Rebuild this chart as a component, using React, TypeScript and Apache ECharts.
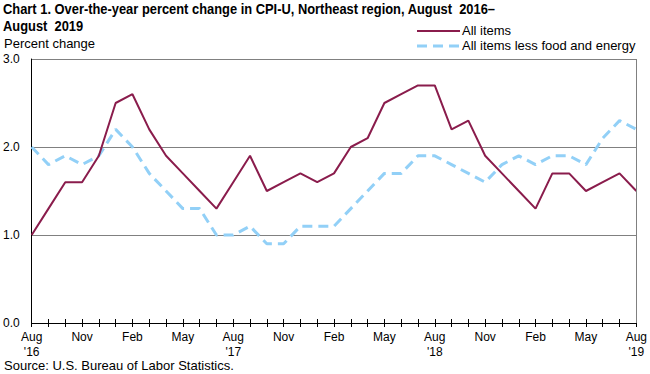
import React, { useEffect, useRef } from "react";
import * as echarts from "echarts";

const months = [
  "Aug\n'16", "Sep", "Oct", "Nov", "Dec", "Jan", "Feb", "Mar", "Apr", "May", "Jun", "Jul",
  "Aug\n'17", "Sep", "Oct", "Nov", "Dec", "Jan", "Feb", "Mar", "Apr", "May", "Jun", "Jul",
  "Aug\n'18", "Sep", "Oct", "Nov", "Dec", "Jan", "Feb", "Mar", "Apr", "May", "Jun", "Jul",
  "Aug\n'19",
];

const allItems = [
  1.0, 1.3, 1.6, 1.6, 1.9, 2.5, 2.6, 2.2, 1.9, 1.7, 1.5, 1.3,
  1.6, 1.9, 1.5, 1.6, 1.7, 1.6, 1.7, 2.0, 2.1, 2.5, 2.6, 2.7,
  2.7, 2.2, 2.3, 1.9, 1.7, 1.5, 1.3, 1.7, 1.7, 1.5, 1.6, 1.7,
  1.5,
];

const core = [
  2.0, 1.8, 1.9, 1.8, 1.9, 2.2, 2.0, 1.7, 1.5, 1.3, 1.3, 1.0,
  1.0, 1.1, 0.9, 0.9, 1.1, 1.1, 1.1, 1.3, 1.5, 1.7, 1.7, 1.9,
  1.9, 1.8, 1.7, 1.6, 1.8, 1.9, 1.8, 1.9, 1.9, 1.8, 2.1, 2.3,
  2.2,
];

const seriesNames = ["All items", "All items less food and energy"];
const yTicks = [0, 1, 2, 3];

const FONT = "'Liberation Sans', Arial, sans-serif";
const RED = "#8a1c4c";
const BLUE = "#92d0f7";

export default function App() {
  const ref = useRef<HTMLDivElement>(null);
  useEffect(() => {
    if (!ref.current) return;
    const chart = echarts.init(ref.current, null, { renderer: "svg" });
    const labelFn = (v: string, i: number) => (i % 3 === 0 ? v : "");
    chart.setOption({
      animation: false,
      backgroundColor: "#ffffff",
      textStyle: { fontFamily: FONT },
      graphic: [
        {
          type: "text",
          left: 3,
          top: 0,
          scaleX: 0.86,
          style: {
            text: "Chart 1. Over-the-year percent change in CPI-U, Northeast region, August  2016–\nAugust  2019",
            font: `bold 15px ${FONT}`,
            fill: "#000",
            lineHeight: 17,
          },
        },
        {
          type: "text",
          left: 4,
          top: 37,
          style: { text: "Percent change", font: `13px ${FONT}`, fill: "#000" },
        },
        {
          type: "text",
          left: 4,
          top: 359,
          style: { text: "Source: U.S. Bureau of Labor Statistics.", font: `13px ${FONT}`, fill: "#000" },
        },
        {
          type: "line",
          shape: { x1: 417, y1: 31, x2: 460, y2: 31 },
          style: { stroke: RED, lineWidth: 2 },
        },
        {
          type: "text",
          x: 462,
          y: 24,
          style: { text: seriesNames[0], font: `13px ${FONT}`, fill: "#000" },
        },
        {
          type: "line",
          shape: { x1: 417, y1: 46, x2: 460, y2: 46 },
          style: { stroke: BLUE, lineWidth: 3, lineDash: [10, 6] },
        },
        {
          type: "text",
          x: 462,
          y: 39,
          style: { text: seriesNames[1], font: `13px ${FONT}`, fill: "#000" },
        },
      ],
      grid: { left: 30, right: 12, top: 59, bottom: 51, containLabel: false },
      xAxis: [
        {
          type: "category",
          data: months,
          boundaryGap: false,
          axisLine: { show: true, lineStyle: { color: "#000", width: 1 } },
          axisTick: { show: true, interval: 0, length: 4, lineStyle: { color: "#000" } },
          axisLabel: {
            interval: 0,
            formatter: labelFn,
            color: "#000",
            fontSize: 12,
            fontFamily: FONT,
            lineHeight: 15,
            margin: 6,
          },
          splitLine: { show: false },
        },
        {
          type: "category",
          data: months,
          boundaryGap: false,
          position: "bottom",
          axisLine: { show: false },
          axisTick: { show: true, inside: true, interval: 0, length: 4, lineStyle: { color: "#000" } },
          axisLabel: { show: false },
          splitLine: { show: false },
        },
      ],
      yAxis: {
        type: "value",
        min: 0,
        max: 3,
        interval: 1,
        axisLine: { show: true, lineStyle: { color: "#000" } },
        axisTick: { show: false },
        axisLabel: {
          formatter: (v: number) => (yTicks.includes(v) ? v.toFixed(1) : ""),
          color: "#000",
          fontSize: 12,
          fontFamily: FONT,
          margin: 12,
        },
        splitLine: { show: true, lineStyle: { color: "#808080", width: 1 } },
      },
      series: [
        {
          name: seriesNames[0],
          type: "line",
          data: allItems,
          symbol: "none",
          lineStyle: { color: RED, width: 2 },
          itemStyle: { color: RED },
          z: 3,
        },
        {
          name: seriesNames[1],
          type: "line",
          data: core,
          symbol: "none",
          lineStyle: { color: BLUE, width: 3, type: [10, 6] },
          itemStyle: { color: BLUE },
          z: 2,
        },
        {
          type: "line",
          data: [],
          markLine: {
            silent: true,
            symbol: "none",
            label: { show: false },
            lineStyle: { color: "#808080", width: 1, type: "solid" },
            data: [[{ coord: [36, 0] }, { coord: [36, 3] }]],
          },
        },
      ],
    });
    return () => chart.dispose();
  }, []);
  return <div ref={ref} style={{ width: 650, height: 374, position: "absolute", left: 0, top: 0 }} />;
}
